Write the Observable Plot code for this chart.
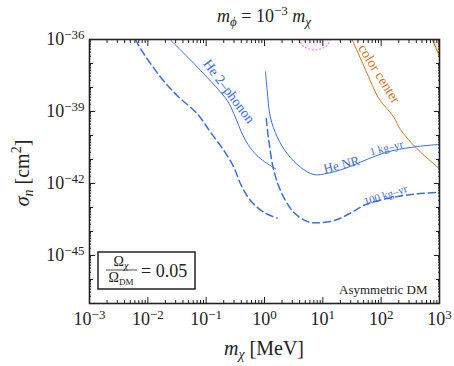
<!DOCTYPE html>
<html><head><meta charset="utf-8">
<script src="https://cdn.jsdelivr.net/npm/d3@7"></script>
<script src="https://cdn.jsdelivr.net/npm/@observablehq/plot@0.6"></script>
<style>body{margin:0;background:#fff}svg{display:block}</style>
</head><body><div id="chart"></div>
<script>
// ---- data (log10 values) ----
const xTickExp = [-3, -2, -1, 0, 1, 2, 3];
const yTickExp = [-45, -42, -39, -36];
const xDomainExp = [-3, 3];
const yDomainExp = [-47, -36];

// He 2-phonon, 1 kg-yr (solid)
const phonon1LogM = [-1.62, -1.10, -0.64, -0.526, -0.355, -0.21, -0.068, 0.19];
const phonon1LogS = [-36.0, -37.28, -38.54, -39.09, -40.07, -40.62, -40.97, -41.39];
// He 2-phonon, 100 kg-yr (dashed)
const phonon100LogM = [-2.21, -2.126, -1.783, -1.50, -1.154, -0.926, -0.698, -0.526, -0.41, -0.24, -0.012, 0.218];
const phonon100LogS = [-36.0, -36.38, -37.56, -38.33, -39.09, -39.86, -40.62, -41.32, -42.02, -42.71, -43.20, -43.44];
// He NR, 1 kg-yr (solid)
const nr1LogM = [0.017, 0.046, 0.10, 0.22, 0.39, 0.617, 0.85, 1.07, 1.36, 1.646, 1.93, 2.22, 2.62, 3.0];
const nr1LogS = [-37.35, -38.12, -39.23, -40.07, -40.76, -41.32, -41.63, -41.58, -41.39, -41.11, -40.83, -40.62, -40.46, -40.37];
// He NR, 100 kg-yr (dashed)
const nr100LogM = [0.03, 0.074, 0.16, 0.30, 0.50, 0.73, 0.90, 1.19, 1.47, 1.76, 2.22, 2.62, 3.0];
const nr100LogS = [-39.30, -40.21, -41.46, -42.43, -43.20, -43.58, -43.64, -43.55, -43.24, -42.85, -42.57, -42.43, -42.37];
// color center
const colorLogM = [1.50, 1.646, 1.76, 1.96, 2.10, 2.22, 2.33, 2.59, 3.0];
const colorLogS = [-36.0, -36.79, -37.42, -38.46, -38.88, -39.25, -39.75, -40.49, -41.39];
// orange corner region (top right)
const cornerLogM = [2.875, 2.94, 3.0];
const cornerLogS = [-36.0, -36.35, -36.73];
// pink dotted region (top)
const pinkLogM = [0.58, 0.65, 0.75, 0.86, 0.97, 1.07, 1.13];
const pinkLogS = [-36.0, -36.25, -36.38, -36.44, -36.38, -36.25, -36.0];

// curve labels
const labelText = ["He 2\u2013phonon", "color center", "He NR", "1 kg\u2013yr", "100 kg\u2013yr"];
const labelLogM = [-0.61, 1.965, 1.32, 2.09, 2.075];
const labelLogS = [-38.16, -37.43, -41.22, -40.52, -42.49];
const labelAngle = [53, 58, -14, -14, -18];
const labelSize = [14, 14, 13, 11, 11];
const labelColor = ["blue", "orange", "blue", "blue", "blue"];

// ---- build ----
const BLUE = "#3d6ce0", ORANGE = "#c8731f";
const rows = (lm, ls) => lm.map((v, i) => ({m: 10 ** v, s: 10 ** ls[i], top: 10 ** yDomainExp[1]}));
const xMajor = xTickExp.map(e => 10 ** e);
const xMinor = d3.range(xDomainExp[0], xDomainExp[1]).flatMap(e => d3.range(2, 10).map(k => k * 10 ** e));
const yDecades = d3.range(yDomainExp[0], yDomainExp[1] + 1).map(e => 10 ** e);
const yMajor = yTickExp.map(e => 10 ** e);
const yMinor = d3.range(yDomainExp[0], yDomainExp[1]).flatMap(e => d3.range(2, 10).map(k => k * 10 ** e));
const fmt = d => "10^" + Math.round(Math.log10(d));
const none = () => "";
const labels = labelText.map((t, i) => ({t, m: 10 ** labelLogM[i], s: 10 ** labelLogS[i], a: labelAngle[i], f: labelSize[i], c: labelColor[i] === "blue" ? BLUE : ORANGE}));

const tickAxes = [];
for (const anchor of ["bottom", "top"]) {
  tickAxes.push(Plot.axisX({anchor, ticks: xMinor, tickSize: -3, tickFormat: none, label: null}));
  tickAxes.push(Plot.axisX({anchor, ticks: xMajor, tickSize: -6, tickFormat: none, label: null}));
}
for (const anchor of ["left", "right"]) {
  tickAxes.push(Plot.axisY({anchor, ticks: yMinor, tickSize: -2, tickFormat: none, label: null}));
  tickAxes.push(Plot.axisY({anchor, ticks: yDecades, tickSize: -4, tickFormat: none, label: null}));
  tickAxes.push(Plot.axisY({anchor, ticks: yMajor, tickSize: -6, tickFormat: none, label: null}));
}

const serif = "'Liberation Serif', 'DejaVu Serif', serif";
const svg = Plot.plot({
  width: 454, height: 366,
  marginLeft: 89, marginRight: 15, marginTop: 39, marginBottom: 63,
  style: {fontFamily: serif, fontSize: "16px", color: "#222", background: "#fff"},
  x: {type: "log", domain: xDomainExp.map(e => 10 ** e)},
  y: {type: "log", domain: yDomainExp.map(e => 10 ** e)},
  marks: [
    Plot.areaY(rows(pinkLogM, pinkLogS), {x: "m", y1: "top", y2: "s", fill: "#f7f0fa", curve: "catmull-rom", clip: true}),
    Plot.line(rows(pinkLogM, pinkLogS), {x: "m", y: "s", stroke: "#d79ae3", strokeWidth: 1.2, strokeDasharray: "1.2,2.4", curve: "catmull-rom", clip: true}),
    Plot.areaY(rows(cornerLogM, cornerLogS), {x: "m", y1: "top", y2: "s", fill: "#fde6c8", clip: true}),
    Plot.line(rows(cornerLogM, cornerLogS), {x: "m", y: "s", stroke: ORANGE, strokeWidth: 1, clip: true}),
    Plot.line(rows(colorLogM, colorLogS), {x: "m", y: "s", stroke: ORANGE, strokeWidth: 1, curve: "catmull-rom", clip: true}),
    Plot.line(rows(phonon1LogM, phonon1LogS), {x: "m", y: "s", stroke: BLUE, strokeWidth: 1, curve: "catmull-rom", clip: true}),
    Plot.line(rows(phonon100LogM, phonon100LogS), {x: "m", y: "s", stroke: BLUE, strokeWidth: 1.5, strokeDasharray: "7,4", curve: "catmull-rom", clip: true}),
    Plot.line(rows(nr1LogM, nr1LogS), {x: "m", y: "s", stroke: BLUE, strokeWidth: 1, curve: "catmull-rom", clip: true}),
    Plot.line(rows(nr100LogM, nr100LogS), {x: "m", y: "s", stroke: BLUE, strokeWidth: 1.5, strokeDasharray: "7,4", curve: "catmull-rom", clip: true}),
    ...labels.map(l => Plot.text([l], {x: "m", y: "s", text: "t", rotate: l.a, fontSize: l.f, fill: l.c})),
    Plot.text(["Asymmetric DM"], {frameAnchor: "bottom-right", dx: -12, dy: -10, fontSize: 13, fill: "#222", textAnchor: "end"}),
    ...tickAxes,
    Plot.axisX({anchor: "bottom", ticks: xMajor, tickSize: 0, tickPadding: 9, tickFormat: fmt, fontSize: 18, fill: "#222", label: null}),
    Plot.axisY({anchor: "left", ticks: yMajor, tickSize: 0, tickPadding: 5, tickFormat: fmt, fontSize: 18, fill: "#222", label: null}),
    Plot.frame({stroke: "#222", strokeWidth: 1.6})
  ]
});

// superscript tick labels
d3.select(svg).selectAll("text").each(function () {
  const s = this.textContent;
  if (/^10\^-?\d+$/.test(s)) {
    const e = s.slice(3).replace("-", "\u2212");
    this.textContent = "";
    const t = d3.select(this);
    t.append("tspan").text("10");
    t.append("tspan").attr("dy", "-0.45em").attr("font-size", "0.72em").text(e);
  }
});

const root = d3.select(svg);
// title
const title = root.append("text").attr("x", 264).attr("y", 22).attr("text-anchor", "middle").attr("font-size", 18).attr("font-family", serif).attr("fill", "#222");
title.append("tspan").attr("font-style", "italic").text("m");
title.append("tspan").attr("font-style", "italic").attr("font-size", 13).attr("dy", 4).text("\u03d5");
title.append("tspan").attr("dy", -4).text(" = 10");
title.append("tspan").attr("font-size", 13).attr("dy", -7).text("\u22123");
title.append("tspan").attr("dy", 7).text(" ");
title.append("tspan").attr("font-style", "italic").text("m");
title.append("tspan").attr("font-style", "italic").attr("font-size", 13).attr("dy", 4).text("\u03c7");
// x label
const xl = root.append("text").attr("x", 264).attr("y", 355).attr("text-anchor", "middle").attr("font-size", 20).attr("font-family", serif).attr("fill", "#222");
xl.append("tspan").attr("font-style", "italic").text("m");
xl.append("tspan").attr("font-style", "italic").attr("font-size", 14).attr("dy", 4).text("\u03c7");
xl.append("tspan").attr("dy", -4).text(" [MeV]");
// y label
const yl = root.append("text").attr("transform", "translate(29,173) rotate(-90)").attr("text-anchor", "middle").attr("font-size", 20).attr("font-family", serif).attr("fill", "#222");
yl.append("tspan").attr("font-style", "italic").text("\u03c3");
yl.append("tspan").attr("font-style", "italic").attr("font-size", 14).attr("dy", 4).text("n");
yl.append("tspan").attr("dy", -4).text(" [cm");
yl.append("tspan").attr("font-size", 14).attr("dy", -8).text("2");
yl.append("tspan").attr("dy", 8).text("]");
// legend box
const lg = root.append("g").attr("font-family", serif).attr("fill", "#222").attr("text-anchor", "start");
lg.append("rect").attr("x", 98).attr("y", 252).attr("width", 97).attr("height", 37).attr("fill", "#fff").attr("stroke", "#222").attr("stroke-width", 1.5);
const num = lg.append("text").attr("x", 121).attr("y", 266).attr("text-anchor", "middle").attr("font-size", 14);
num.append("tspan").text("\u03a9");
num.append("tspan").attr("font-style", "italic").attr("font-size", 10).attr("dy", 3).text("\u03c7");
lg.append("line").attr("x1", 106).attr("x2", 137).attr("y1", 270).attr("y2", 270).attr("stroke", "#222").attr("stroke-width", 0.8);
const den = lg.append("text").attr("x", 121).attr("y", 282).attr("text-anchor", "middle").attr("font-size", 14);
den.append("tspan").text("\u03a9");
den.append("tspan").attr("font-size", 9).attr("dy", 3).text("DM");
lg.append("text").attr("x", 141).attr("y", 277).attr("text-anchor", "start").attr("font-size", 18).text("= 0.05");

document.getElementById("chart").append(svg);
</script>
</body></html>
